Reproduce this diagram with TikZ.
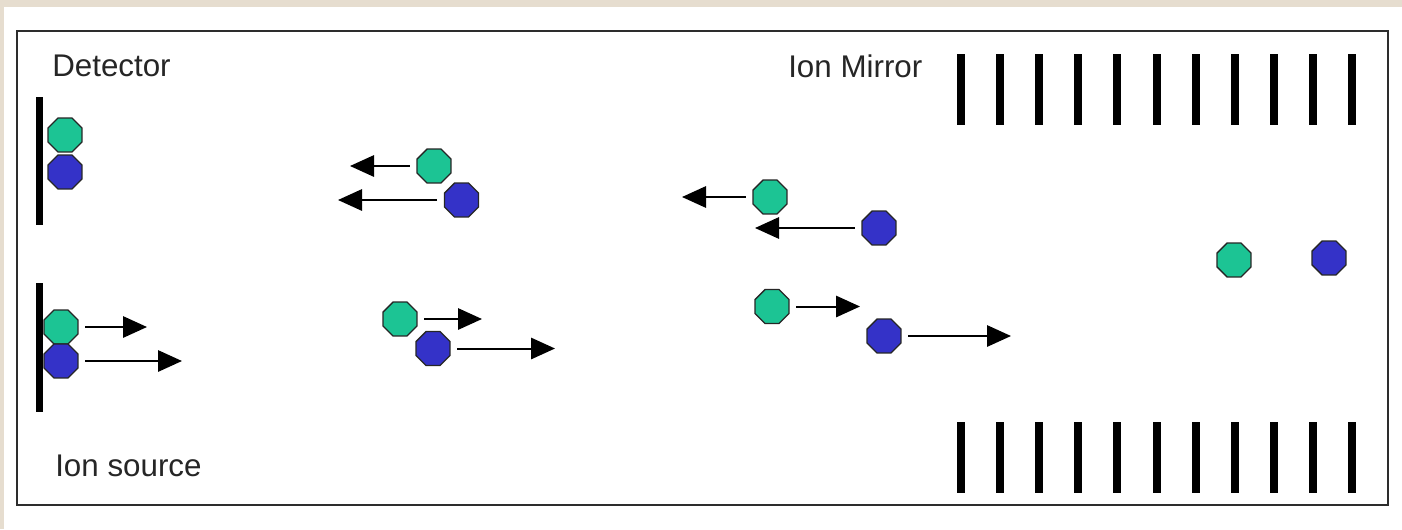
\documentclass[tikz,border=0pt]{standalone}
\usepackage{fontspec}
\setmainfont{Liberation Sans}
\usetikzlibrary{shapes.geometric,arrows.meta}
\definecolor{bgbeige}{RGB}{230,221,207}
\definecolor{iongreen}{RGB}{28,196,148}
\definecolor{ionblue}{RGB}{52,50,200}
\definecolor{framegray}{RGB}{45,45,45}
\tikzset{
  ion/.style={regular polygon, regular polygon sides=8, inner sep=0pt,
    minimum size=27.5pt, draw=black!85, line width=1pt},
  gion/.style={ion, fill=iongreen},
  bion/.style={ion, fill=ionblue},
  arr/.style={line width=1.5pt, -{Triangle[length=18pt,width=16pt]}, shorten <=5pt},
  plate/.style={line width=4.8pt},
  mirrorbar/.style={line width=6pt},
  lbl/.style={anchor=base west, inner sep=0pt, font=\fontsize{23.5pt}{28pt}\selectfont, text=black!85}
}
\begin{document}
\begin{tikzpicture}[x=0.75pt,y=-0.75pt]
\useasboundingbox (0,0) rectangle (1402,529);
\fill[bgbeige] (0,0) rectangle (1402,529);
\fill[white] (4,7) rectangle (1402,529);
\draw[framegray, line width=1.6pt] (17,31) rectangle (1388,505);

% labels
\node[lbl] (det) at (52,76) {Detector};
\node[lbl] (src) at (55,476) {Ion source};
\node[lbl] (mir) at (788,77) {Ion Mirror};

% detector and source plates
\draw[plate] (39.5,97) -- (39.5,225);
\draw[plate] (39.5,283) -- (39.5,412);

% mirror bars
\foreach \i in {0,...,10} {
  \draw[mirrorbar] ({961+39.1*\i},54) -- ({961+39.1*\i},125);
  \draw[mirrorbar] ({961+39.1*\i},422) -- ({961+39.1*\i},493);
}

% ions at detector
\node[gion] (dg) at (65,135) {};
\node[bion] (db) at (65,172) {};

% ions at source
\node[gion] (sg) at (61,327) {};
\node[bion] (sb) at (61,361) {};
\coordinate (sgt) at (147,327);
\coordinate (sbt) at (182,361);
\draw[arr] (sg) -- (sgt);
\draw[arr] (sb) -- (sbt);

% returning ions, middle
\node[gion] (rg1) at (434,166) {};
\node[bion] (rb1) at (461.5,200) {};
\coordinate (rg1t) at (350,166);
\coordinate (rb1t) at (338,200);
\draw[arr] (rg1) -- (rg1t);
\draw[arr] (rb1) -- (rb1t);

% outgoing ions, middle
\node[gion] (og1) at (400,319) {};
\node[bion] (ob1) at (433,348.5) {};
\coordinate (og1t) at (482,319);
\coordinate (ob1t) at (555,348.5);
\draw[arr] (og1) -- (og1t);
\draw[arr] (ob1) -- (ob1t);

% returning ions, right
\node[gion] (rg2) at (770,197) {};
\node[bion] (rb2) at (879,228) {};
\coordinate (rg2t) at (682,197);
\coordinate (rb2t) at (755,228);
\draw[arr] (rg2) -- (rg2t);
\draw[arr] (rb2) -- (rb2t);

% outgoing ions, right
\node[gion] (og2) at (772,306.5) {};
\node[bion] (ob2) at (884,336) {};
\coordinate (og2t) at (860,306.5);
\coordinate (ob2t) at (1011,336);
\draw[arr] (og2) -- (og2t);
\draw[arr] (ob2) -- (ob2t);

% ions in the mirror
\node[gion] (mg) at (1234,260) {};
\node[bion] (mb) at (1329,258) {};
\end{tikzpicture}
\end{document}
